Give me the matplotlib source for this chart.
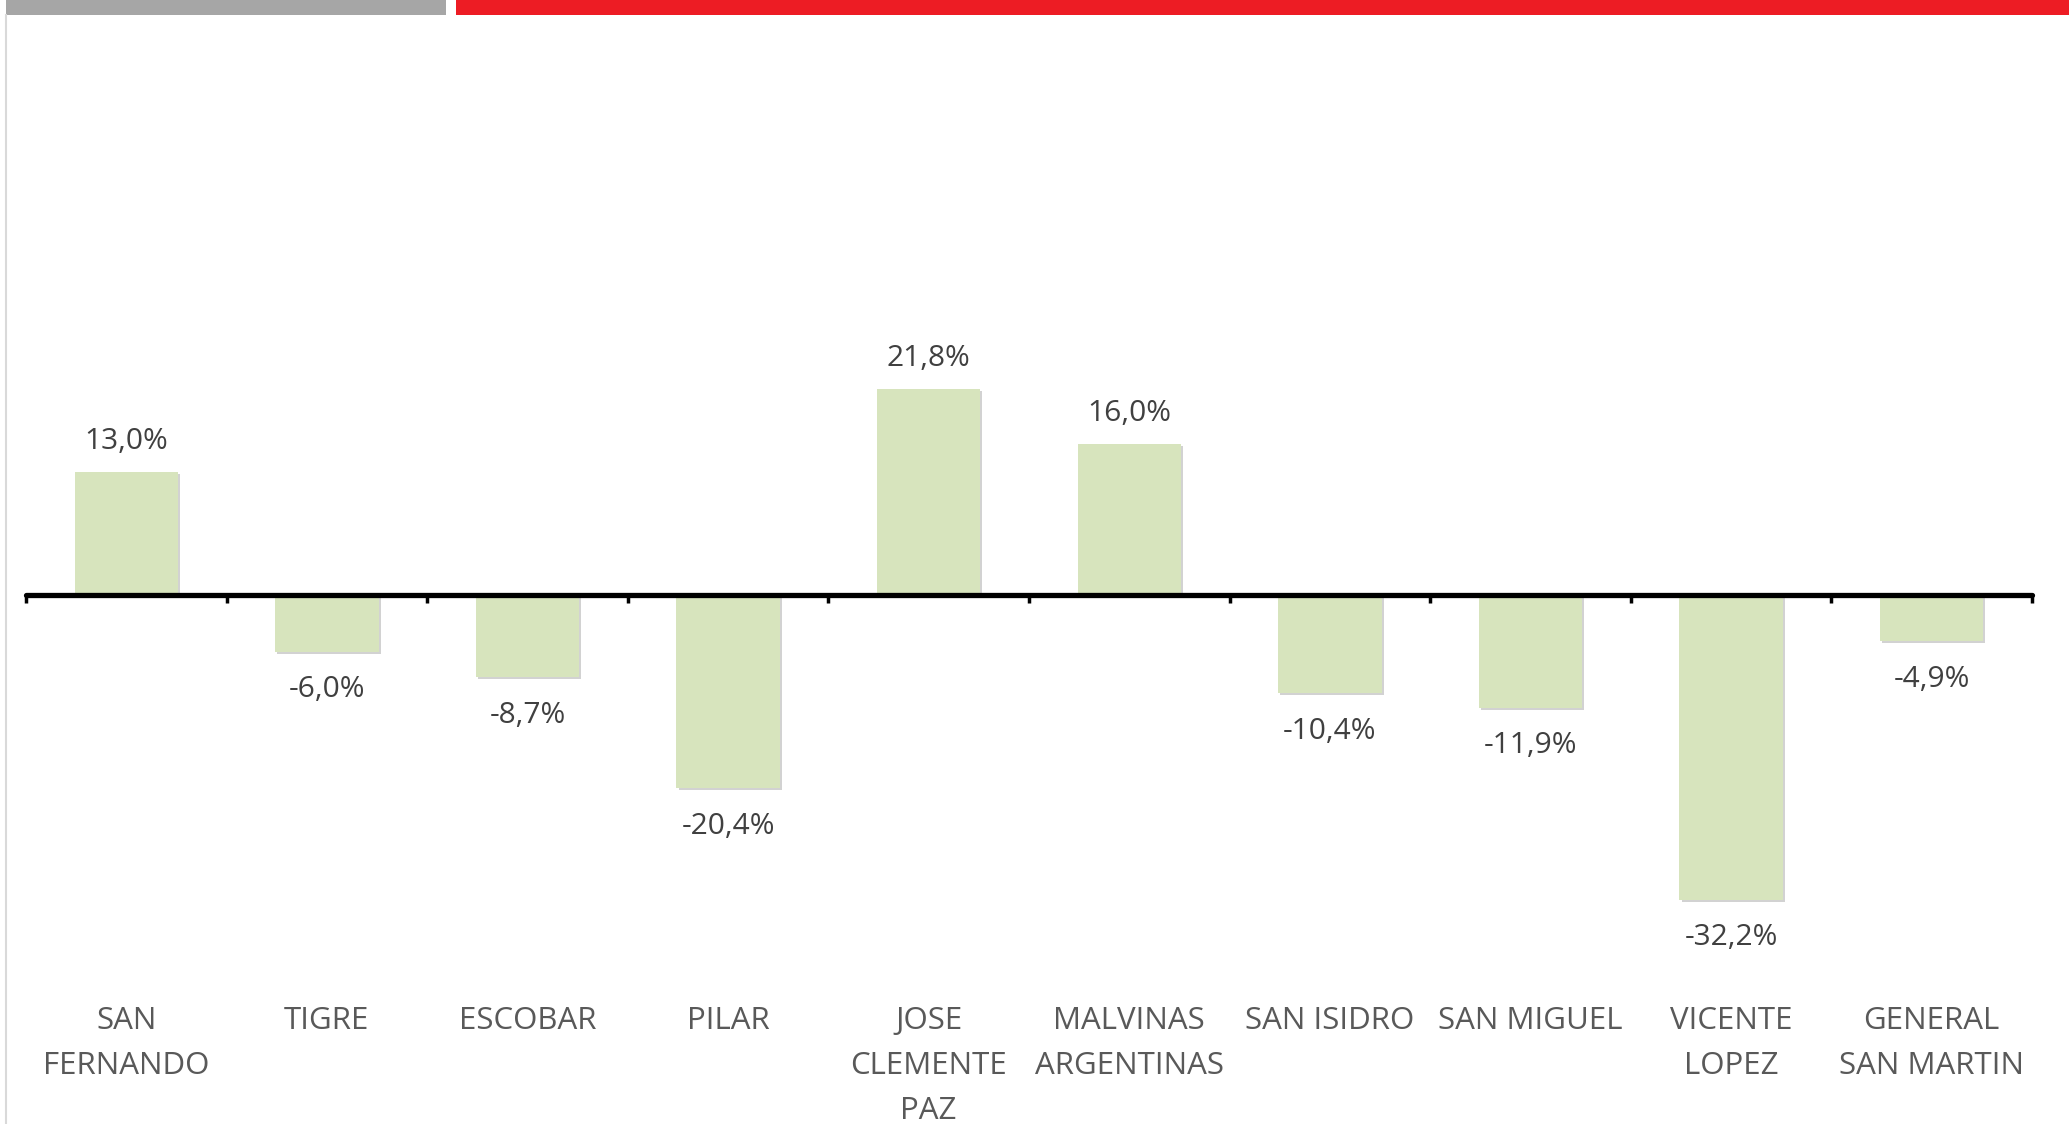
import matplotlib
matplotlib.use("Agg")
import matplotlib.pyplot as plt
import matplotlib.patheffects as pe
from matplotlib.patches import Rectangle
from matplotlib.lines import Line2D
import numpy as np

categories = ["SAN\nFERNANDO", "TIGRE", "ESCOBAR", "PILAR", "JOSE\nCLEMENTE\nPAZ",
              "MALVINAS\nARGENTINAS", "SAN ISIDRO", "SAN MIGUEL", "VICENTE\nLOPEZ",
              "GENERAL\nSAN MARTIN"]
values = [13.0, -6.0, -8.7, -20.4, 21.8, 16.0, -10.4, -11.9, -32.2, -4.9]

FONT = ["Open Sans", "DejaVu Sans"]
W, H = 2069, 1124
fig = plt.figure(figsize=(W / 100, H / 100), dpi=100)
fig.patch.set_facecolor("white")

# header bars and left border
fig.add_artist(Rectangle((6 / W, 1 - 15 / H), 440 / W, 15 / H, transform=fig.transFigure,
                         facecolor="#A6A6A6", edgecolor="none"))
fig.add_artist(Rectangle((456 / W, 1 - 15 / H), (W - 456) / W, 15 / H, transform=fig.transFigure,
                         facecolor="#ED1C24", edgecolor="none"))
fig.add_artist(Line2D([6 / W, 6 / W], [0, 1 - 15 / H], transform=fig.transFigure,
                      color="#D9D9D9", lw=1.5))

top_px, bot_px, axis_px, ppu = 40, 960, 595, 9.46
ax = fig.add_axes([26 / W, (H - bot_px) / H, 2006 / W, (bot_px - top_px) / H])
ax.set_xlim(-0.5, len(values) - 0.5)
ax.set_ylim(-(bot_px - axis_px) / ppu, (axis_px - top_px) / ppu)

x = np.arange(len(values))
bars = ax.bar(x, values, width=0.515, color="#D7E4BD", zorder=2)
for b in bars:
    b.set_path_effects([pe.SimplePatchShadow(offset=(1.5, -1.5), shadow_rgbFace="#7F7F7F", alpha=0.35),
                        pe.Normal()])

for xi, v in zip(x, values):
    txt = f"{v:.1f}%".replace(".", ",")
    if v >= 0:
        ax.annotate(txt, (xi, v), xytext=(0, 11.5), textcoords="offset points",
                    ha="center", va="bottom", fontsize=21.5, color="#404040", family=FONT)
    else:
        ax.annotate(txt, (xi, v), xytext=(0, -17), textcoords="offset points",
                    ha="center", va="top", fontsize=21.5, color="#404040", family=FONT)

for s in ["top", "left", "right"]:
    ax.spines[s].set_visible(False)
ax.spines["bottom"].set_position(("data", 0))
ax.spines["bottom"].set_linewidth(3.8)
ax.spines["bottom"].set_capstyle("round")
ax.spines["bottom"].set_zorder(3)
ax.set_yticks([])

ax.set_xticks(x)
ax.set_xticklabels(categories, fontsize=22.5, color="#595959", family=FONT,
                   linespacing=1.64, multialignment="center")
ax.tick_params(axis="x", which="major", length=0, pad=296)
ax.set_xticks(np.arange(len(values) + 1) - 0.5, minor=True)
ax.tick_params(axis="x", which="minor", length=6, width=2.5, color="black", direction="out")

fig.savefig("out.png", dpi=100, facecolor="white")
